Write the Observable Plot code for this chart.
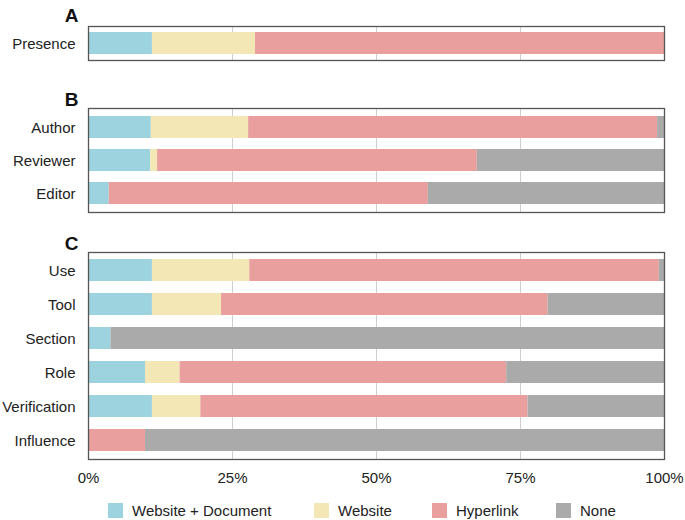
<!DOCTYPE html>
<html>
<head>
<meta charset="utf-8">
<script src="https://cdn.jsdelivr.net/npm/d3@7"></script>
<script src="https://cdn.jsdelivr.net/npm/@observablehq/plot@0.6"></script>
<style>
  body { margin: 0; background: #fff; font-family: "Liberation Sans", Arial, sans-serif; }
  #chart { width: 685px; }
  #chart svg { display: block; }
  .legend { position: relative; height: 36px; width: 685px; font-size: 15px; color: #222; }
  .legend .item { position: absolute; top: 0; height: 36px; display: flex; align-items: center; white-space: nowrap; }
  .legend .sw { width: 15px; height: 15px; margin-right: 9px; }
</style>
</head>
<body>
<div id="chart"></div>
<script>
const seriesNames = ["Website + Document", "Website", "Hyperlink", "None"];
const seriesColors = ["#9DD3DF", "#F3E7B6", "#E89F9D", "#AAAAAA"];
const tickValues = [0, 25, 50, 75, 100];
const tickLabels = ["0%", "25%", "50%", "75%", "100%"];

// Panel A
const catsA = ["Presence"];
const websiteDocA = [11.1];
const websiteA = [17.9];
const hyperlinkA = [71.0];
const noneA = [0];

// Panel B
const catsB = ["Author", "Reviewer", "Editor"];
const websiteDocB = [10.9, 10.8, 3.6];
const websiteB = [16.9, 1.2, 0];
const hyperlinkB = [71.0, 55.5, 55.4];
const noneB = [1.2, 32.5, 41.0];

// Panel C
const catsC = ["Use", "Tool", "Section", "Role", "Verification", "Influence"];
const websiteDocC = [11.1, 11.1, 3.9, 9.9, 11.1, 0];
const websiteC = [16.9, 12.0, 0, 6.0, 8.4, 0];
const hyperlinkC = [71.1, 56.7, 0, 56.7, 56.8, 9.9];
const noneC = [0.9, 20.2, 96.1, 27.4, 23.7, 90.1];

const legendLefts = [108, 314, 432, 556];

function buildRows(cats, seriesArrays) {
  const rows = [];
  seriesArrays.forEach((arr, s) => {
    cats.forEach((c, i) => rows.push({cat: c, series: seriesNames[s], value: arr[i]}));
  });
  return rows;
}

function panel(letter, cats, seriesArrays, opt) {
  const rows = buildRows(cats, seriesArrays);
  const marks = [
    Plot.gridX(tickValues.slice(1, 4), {stroke: "#cfcfcf", strokeOpacity: 1, strokeWidth: 1}),
    Plot.barX(rows, Plot.stackX({x: "value", y: "cat", fill: "series"})),
    Plot.frame({stroke: "#555", strokeWidth: 1.3}),
    Plot.axisY({tickSize: 0, tickPadding: 13, fontSize: 15, label: null, dy: 1}),
    Plot.text([letter], {x: [0], text: d => d, frameAnchor: "top", dx: -17, dy: opt.letterDy, fontWeight: "bold", fontSize: 19, fill: "#111"})
  ];
  if (opt.showX) {
    marks.push(Plot.axisX({ticks: tickValues, tickFormat: d => tickLabels[tickValues.indexOf(d)], tickSize: 0, tickPadding: 13, fontSize: 15, label: null}));
  }
  return Plot.plot({
    width: 685,
    height: opt.height,
    marginLeft: 88,
    marginRight: 21,
    marginTop: opt.marginTop,
    marginBottom: opt.marginBottom,
    style: {fontFamily: "Liberation Sans, Arial, sans-serif", fontSize: "15px", color: "#222", background: "#fff"},
    x: {domain: [0, 100], axis: opt.showX ? undefined : null},
    y: {domain: cats, paddingInner: 0.34, paddingOuter: opt.padOuter, axis: null},
    color: {domain: seriesNames, range: seriesColors},
    marks
  });
}

const chart = document.getElementById("chart");
chart.appendChild(panel("A", catsA, [websiteDocA, websiteA, hyperlinkA, noneA], {height: 62, marginTop: 26, marginBottom: 2, letterDy: -18, showX: false, padOuter: 0.16}));
chart.appendChild(panel("B", catsB, [websiteDocB, websiteB, hyperlinkB, noneB], {height: 152, marginTop: 46, marginBottom: 2, letterDy: -16, showX: false, padOuter: 0.2}));
chart.appendChild(panel("C", catsC, [websiteDocC, websiteC, hyperlinkC, noneC], {height: 278, marginTop: 38, marginBottom: 33, letterDy: -16, showX: true, padOuter: 0.2}));

const legend = document.createElement("div");
legend.className = "legend";
seriesNames.forEach((name, i) => {
  const item = document.createElement("div");
  item.className = "item";
  item.style.left = legendLefts[i] + "px";
  const sw = document.createElement("span");
  sw.className = "sw";
  sw.style.background = seriesColors[i];
  const t = document.createElement("span");
  t.textContent = name;
  item.appendChild(sw);
  item.appendChild(t);
  legend.appendChild(item);
});
chart.appendChild(legend);
</script>
</body>
</html>
